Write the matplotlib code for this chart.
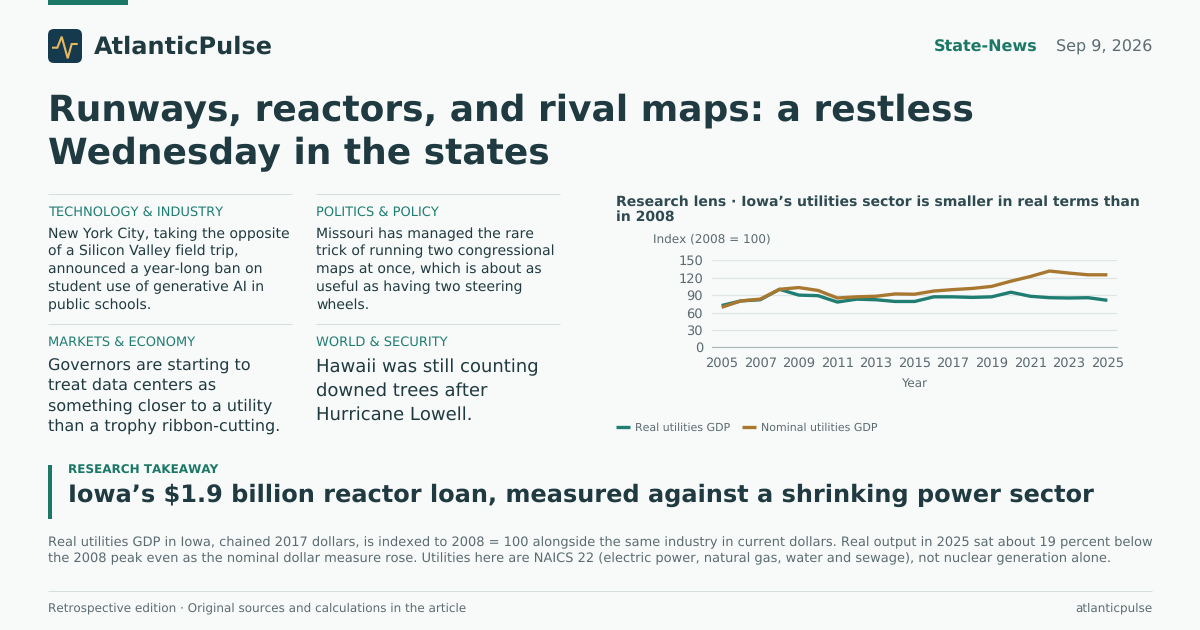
import matplotlib
matplotlib.use('Agg')
import matplotlib.pyplot as plt
from matplotlib.patches import FancyBboxPatch, Rectangle

years = list(range(2005, 2026))
real_gdp = [72, 80, 82, 100, 90, 89, 78, 83, 82, 79, 79, 87, 87, 86, 87, 95, 88, 85.5, 85, 85.5, 81]
nominal_gdp = [69, 80, 83, 100, 103, 98, 85, 87, 88, 92, 91.5, 97, 99.5, 101.5, 105, 114, 122, 131.5, 128, 125, 125]
x_ticks = years[::2]
y_ticks = [0, 30, 60, 90, 120, 150]

BG = '#f8fafa'
TEAL = '#1f7d72'
BRAND = '#1b7766'
GOLD = '#a97830'
DARK = '#1f3a40'
GREY = '#5b6b70'
RULE = '#d6dfdd'

plt.rcParams['font.family'] = 'DejaVu Sans'
plt.rcParams['text.hinting'] = 'no_hinting'
plt.rcParams['text.hinting_factor'] = 1

fig = plt.figure(figsize=(12, 6.3), dpi=100, facecolor=BG)

# page layer, coordinates are pixels from the top left
page = fig.add_axes([0, 0, 1, 1])
page.set_xlim(0, 1200)
page.set_ylim(630, 0)
page.axis('off')


def txt(x, y, s, px, color=DARK, weight='normal', ha='left'):
    page.text(x, y + 1, s, fontsize=px * 0.72, color=color, fontweight=weight, ha=ha, va='center')


def block(x, y, lines, px, step, color=DARK, weight='normal'):
    for i, line in enumerate(lines):
        txt(x, y + i * step, line, px, color, weight)


def rule(x0, x1, y):
    page.plot([x0, x1], [y, y], color=RULE, lw=0.72, solid_capstyle='butt')


page.add_patch(Rectangle((48, 0), 80, 5, color=BRAND, lw=0))

# logo
page.add_patch(FancyBboxPatch((53, 34), 24, 24, boxstyle='round,pad=5,rounding_size=6',
                              fc='#163a4d', ec='none'))
page.plot([52, 57.3, 61.7, 67.7, 71.7, 77.7], [47.7, 47.7, 36.7, 58.3, 44, 44],
          color='#e8b860', lw=1.5, solid_joinstyle='miter', solid_capstyle='butt')
txt(94, 46.5, 'AtlanticPulse', 24, '#1f3a40', 'bold')

txt(1038, 46.5, 'State-News', 16, BRAND, 'bold', ha='right')
txt(1152, 46.5, 'Sep 9, 2026', 16, GREY, ha='right')

block(48, 110, ['Runways, reactors, and rival maps: a restless', 'Wednesday in the states'],
      36, 43, DARK, 'bold')

# story columns
for x0, x1 in [(48, 292), (316, 560)]:
    rule(x0, x1, 194)
    rule(x0, x1, 324)

# the kickers are letter spaced in the original, a bigger size gives the same width
txt(48, 211, 'TECHNOLOGY & INDUSTRY', 13, TEAL)
block(48, 233, ['New York City, taking the opposite', 'of a Silicon Valley field trip,',
                'announced a year-long ban on', 'student use of generative AI in',
                'public schools.'], 14, 17.7)
txt(316, 211, 'POLITICS & POLICY', 13, TEAL)
block(316, 233, ['Missouri has managed the rare', 'trick of running two congressional',
                 'maps at once, which is about as', 'useful as having two steering',
                 'wheels.'], 14, 17.7)
txt(48, 341, 'MARKETS & ECONOMY', 13, TEAL)
block(48, 364.5, ['Governors are starting to', 'treat data centers as',
                  'something closer to a utility', 'than a trophy ribbon-cutting.'], 16, 20.2)
txt(316, 341, 'WORLD & SECURITY', 13, TEAL)
block(316, 366, ['Hawaii was still counting', 'downed trees after', 'Hurricane Lowell.'], 18, 24)

# chart
block(616, 200.5, ['Research lens · Iowa’s utilities sector is smaller in real terms than', 'in 2008'],
      14, 15.5, '#2f4a50', 'bold')
txt(653, 238, 'Index (2008 = 100)', 12, GREY)

ax = fig.add_axes([712 / 1200, 1 - 347.3 / 630, 405 / 1200, 87 / 630])
ax.patch.set_alpha(0)
ax.plot(years, real_gdp, color=TEAL, lw=2.4, solid_capstyle='butt', label='Real utilities GDP')
ax.plot(years, nominal_gdp, color=GOLD, lw=2.4, solid_capstyle='butt', label='Nominal utilities GDP')
ax.set_xlim(2004.5, 2025.5)
ax.set_ylim(0, 150)
ax.set_xticks(x_ticks)
ax.set_yticks(y_ticks)
ax.grid(axis='y', color='#dfe4e4', lw=0.9)
ax.set_axisbelow(True)
ax.tick_params(axis='x', length=0, labelsize=9.7, labelcolor=GREY, pad=7)
ax.tick_params(axis='y', length=0, labelsize=9.7, labelcolor=GREY, pad=6.5)
for side in ['top', 'right', 'left']:
    ax.spines[side].set_visible(False)
ax.spines['bottom'].set_color('#aab8b8')
ax.set_xlabel('Year', fontsize=8.7, color=GREY, labelpad=5.5)
ax.legend(loc='lower left', bbox_to_anchor=(616 / 1200, 1 - 433.5 / 630),
          bbox_transform=fig.transFigure, ncol=2, frameon=False, fontsize=7.9,
          handlelength=1.27, handletextpad=0.42, columnspacing=1.16, borderpad=0, borderaxespad=0,
          labelcolor=GREY)

# takeaway
page.add_patch(Rectangle((48, 465), 4, 54, color=BRAND, lw=0))
txt(68, 469.5, 'RESEARCH TAKEAWAY', 12, BRAND, 'bold')
txt(68, 494.5, 'Iowa’s $1.9 billion reactor loan, measured against a shrinking power sector', 24, DARK, 'bold')

block(48, 541.5, ['Real utilities GDP in Iowa, chained 2017 dollars, is indexed to 2008 = 100 alongside the same industry in current dollars. Real output in 2025 sat about 19 percent below',
                  'the 2008 peak even as the nominal dollar measure rose. Utilities here are NAICS 22 (electric power, natural gas, water and sewage), not nuclear generation alone.'],
      12.97, 16, GREY)

rule(48, 1152, 591)
txt(48, 607, 'Retrospective edition · Original sources and calculations in the article', 12, GREY)
txt(1152, 607, 'atlanticpulse', 12, GREY, ha='right')

fig.savefig('out.png', dpi=100, facecolor=BG)
